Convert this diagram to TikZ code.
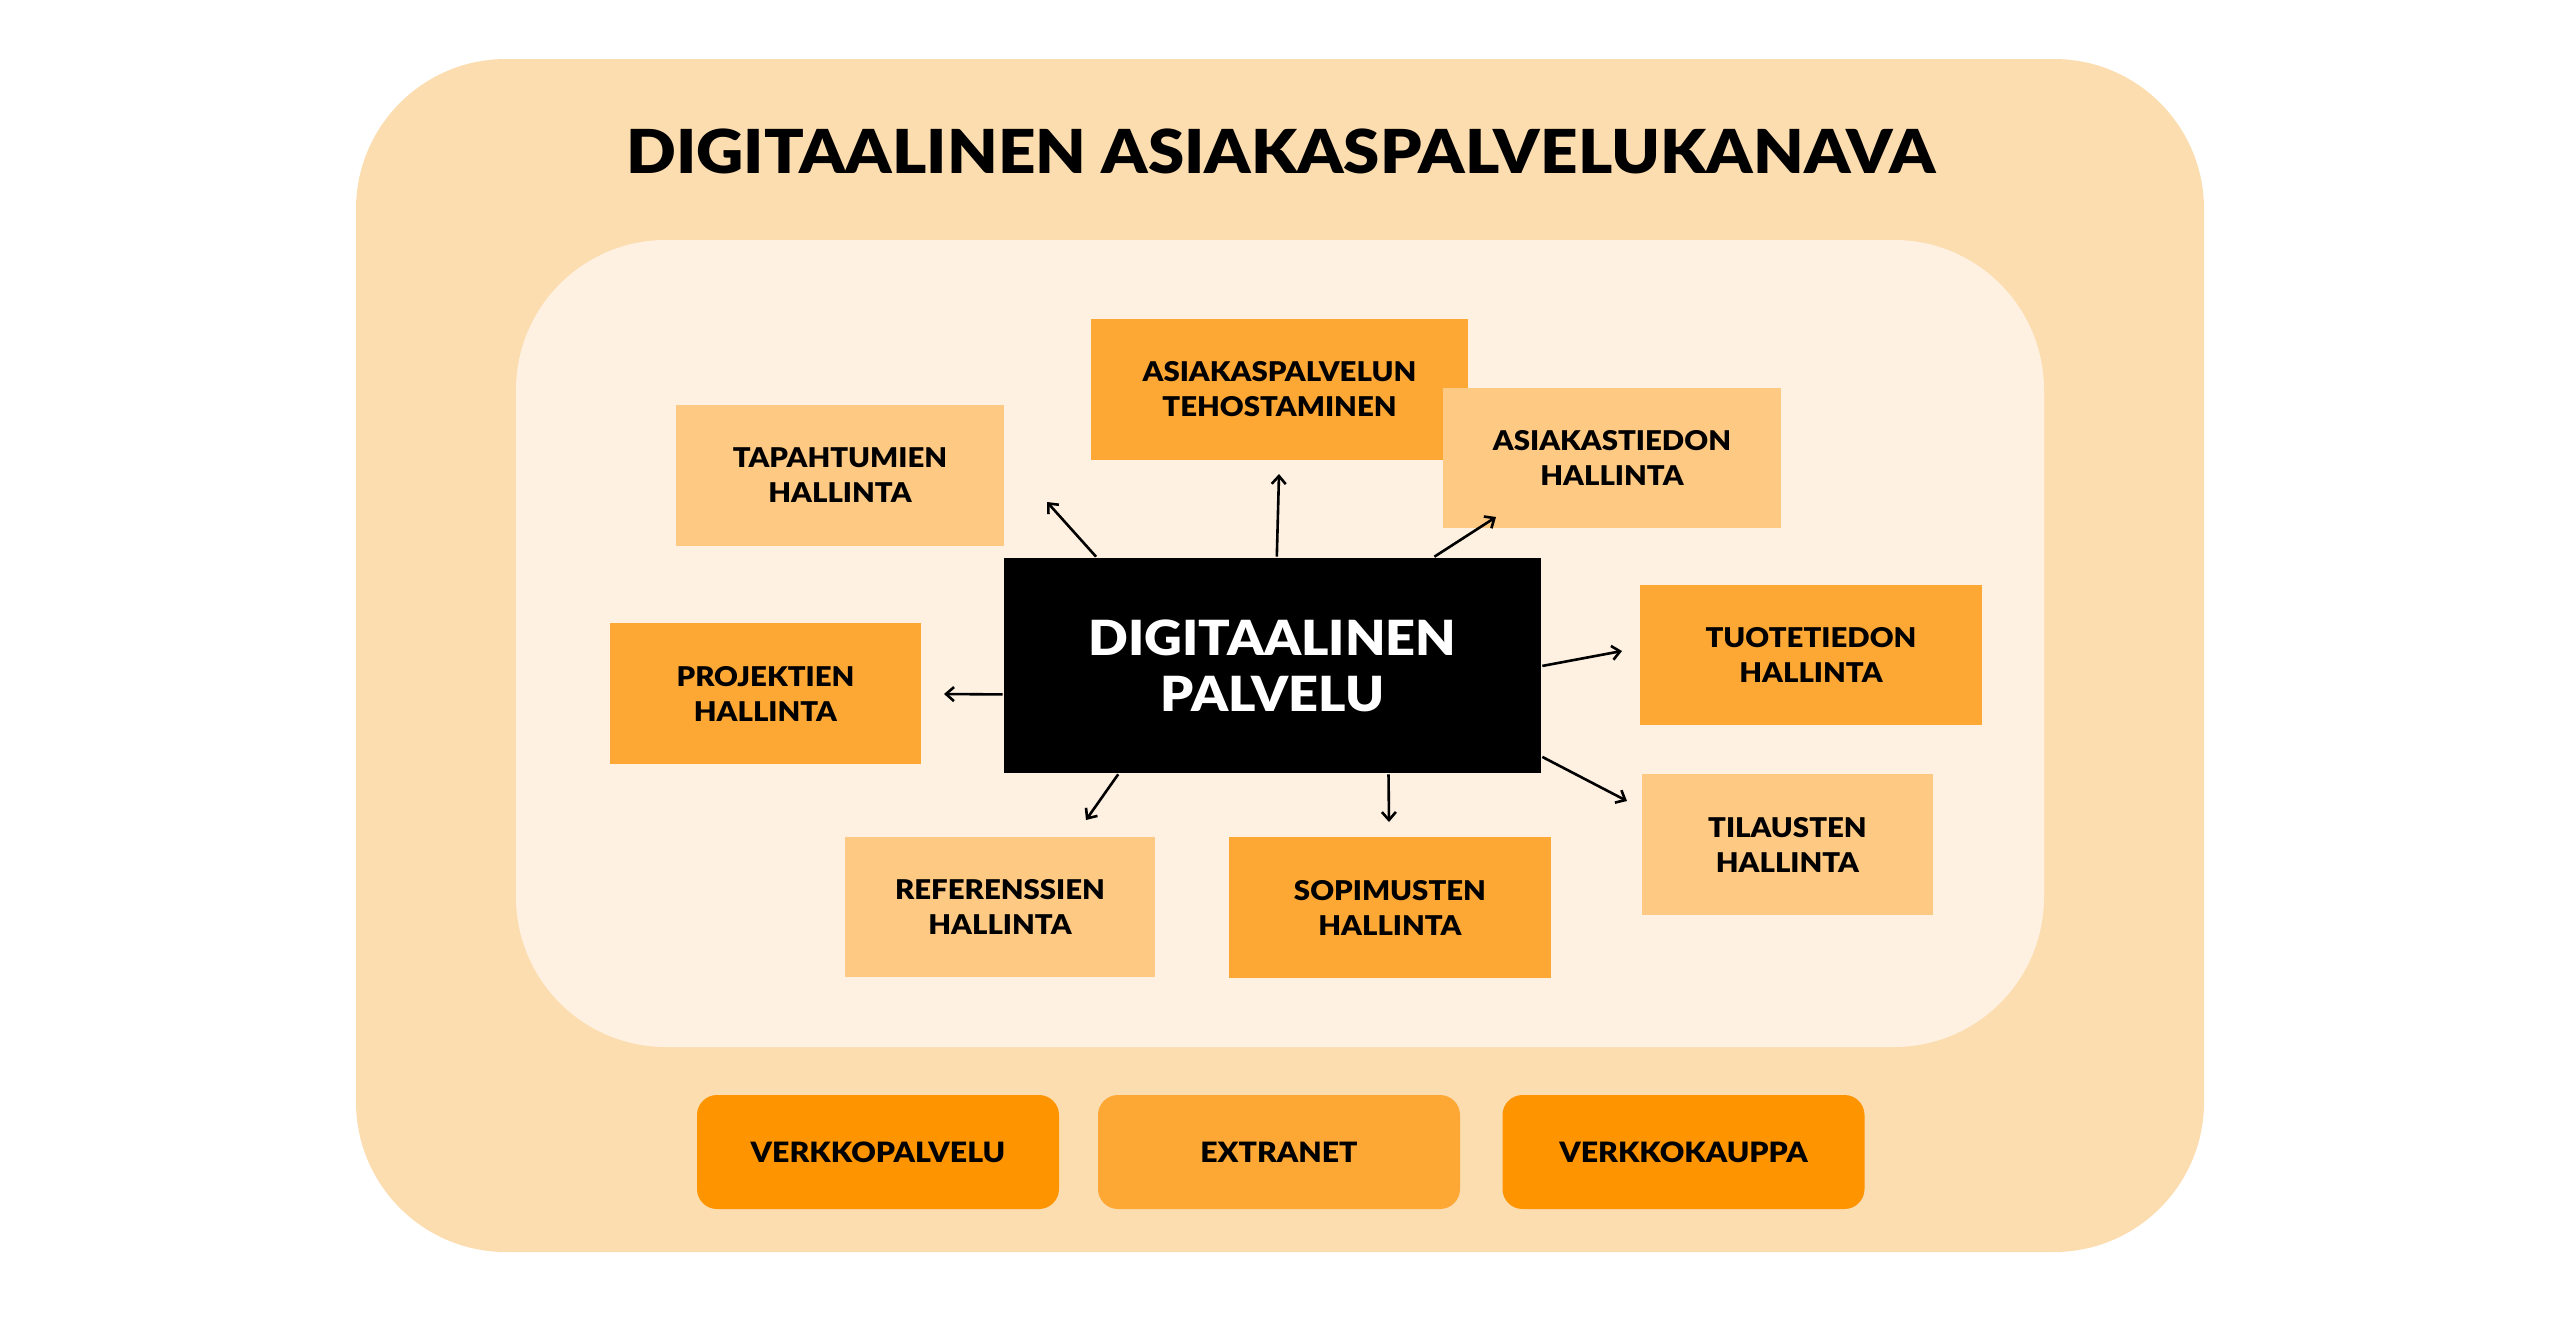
\documentclass[tikz,border=0pt]{standalone}
\usepackage{fontspec}
\setmainfont{Lato}[BoldFont={Lato Black}, BoldFeatures={FakeStretch=1.08}]
\usetikzlibrary{arrows.meta,calc}

\definecolor{kanavaBg}{RGB}{252,221,176}
\definecolor{palveluBg}{RGB}{254,241,226}
\definecolor{tummaOranssi}{RGB}{253,167,52}
\definecolor{vaaleaOranssi}{RGB}{253,201,131}
\definecolor{kirkasOranssi}{RGB}{253,148,0}

\tikzset{every picture/.style={line width=1.3pt}}
\tikzset{
  osa/.style={font=\bfseries\fontsize{13.6}{17.5}\selectfont, align=center, inner sep=0pt, minimum height=70.5pt},
  kanava/.style={osa, fill=kirkasOranssi, rounded corners=10pt, minimum width=181pt, minimum height=57pt, font=\bfseries\fontsize{14}{17}\selectfont},
  pil/.style={-{Straight Barb[length=4pt,width=7pt]}}
}

\begin{document}
\begin{tikzpicture}[x=0.5pt,y=0.5pt,yscale=-1,xscale=1]
        \useasboundingbox (0,0) rectangle (2560,1317);
        % taustat
        \fill [kanavaBg, rounded corners=75pt] (356,59) rectangle (2204,1252);
        \fill [palveluBg, rounded corners=75pt] (516,240) rectangle (2044,1047);
        \node (otsikko) at (1281,151) [font=\bfseries\fontsize{30.3}{36}\selectfont] {DIGITAALINEN ASIAKASPALVELUKANAVA};
        % osa-alueet
        \node (tap) at (840,475.5) [osa, fill=vaaleaOranssi, minimum width=164pt] {TAPAHTUMIEN\\HALLINTA};
        \node (asp) at (1279.5,389.5) [osa, fill=tummaOranssi, minimum width=188.5pt] {ASIAKASPALVELUN\\TEHOSTAMINEN};
        \node (ast) at (1612,458) [osa, fill=vaaleaOranssi, minimum width=169pt, minimum height=70pt] {ASIAKASTIEDON\\HALLINTA};
        \node (pro) at (765.5,693.5) [osa, fill=tummaOranssi, minimum width=155.5pt] {PROJEKTIEN\\HALLINTA};
        \node (tuo) at (1811,655) [osa, fill=tummaOranssi, minimum width=171pt, minimum height=70pt] {TUOTETIEDON\\HALLINTA};
        \node (til) at (1787.5,844.5) [osa, fill=vaaleaOranssi, minimum width=145.5pt] {TILAUSTEN\\HALLINTA};
        \node (sop) at (1390,907.5) [osa, fill=tummaOranssi, minimum width=161pt] {SOPIMUSTEN\\HALLINTA};
        \node (ref) at (1000,907) [osa, fill=vaaleaOranssi, minimum width=155pt, minimum height=70pt] {REFERENSSIEN\\HALLINTA};
        \node (dp) at (1272.5,665.5) [fill=black, text=white, inner sep=0pt, minimum width=268.5pt, minimum height=107.5pt, align=center, font=\bfseries\fontsize{24.2}{28}\selectfont] {DIGITAALINEN\\PALVELU};
        % kanavat
        \node (vpl) at (878,1152) [kanava] {VERKKOPALVELU};
        \node (ext) at (1279,1152) [kanava, fill=tummaOranssi] {EXTRANET};
        \node (vka) at (1683.5,1152) [kanava] {VERKKOKAUPPA};
        % nuolet
        \coordinate (tapKarki) at (1047,502);
        \coordinate (aspKarki) at (1279,474);
        \coordinate (astKarki) at (1496,517);
        \coordinate (tuoKarki) at (1622,651);
        \coordinate (tilKarki) at (1627,801);
        \coordinate (sopKarki) at (1389,822);
        \coordinate (refKarki) at (1086,820);
        \coordinate (proKarki) at (944,694);
        \draw [pil] ($(dp.north west)!0.173!(dp.north east)$) -- (tapKarki);
        \draw [pil] ($(dp.north west)!0.508!(dp.north east)$) -- (aspKarki);
        \draw [pil] ($(dp.north west)!0.8!(dp.north east)$) -- (astKarki);
        \draw [pil] ($(dp.north east)!0.502!(dp.south east)$) -- (tuoKarki);
        \draw [pil] ($(dp.north east)!0.92!(dp.south east)$) -- (tilKarki);
        \draw [pil] ($(dp.south west)!0.715!(dp.south east)$) -- (sopKarki);
        \draw [pil] ($(dp.south west)!0.214!(dp.south east)$) -- (refKarki);
        \draw [pil] ($(dp.north west)!0.633!(dp.south west)$) -- (proKarki);
\end{tikzpicture}
\end{document}
